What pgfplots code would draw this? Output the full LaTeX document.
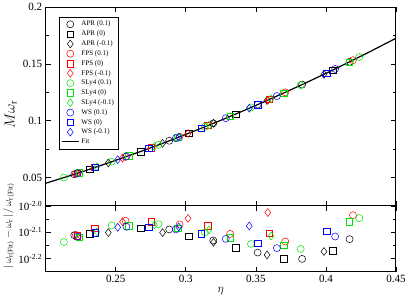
\documentclass[border=0pt]{standalone}
\usepackage{pgfplots}
\pgfplotsset{compat=1.18}
\usepackage{pgfplotstable}
\usepackage{fontspec}
\setmainfont{Liberation Serif}
\definecolor{gRed}{RGB}{255,0,0}
\definecolor{gGreen}{RGB}{0,230,0}
\definecolor{gBlue}{RGB}{0,0,255}

% columns: eta, M omega_r (upper), log10 relative error (lower)
\pgfplotstableread{
x y e
0.2204 0.0529 -2.111
0.2882 0.0824 -2.089
0.3196 0.0977 -2.131
0.3513 0.1142 -2.177
0.3830 0.1318 -2.201
0.4169 0.1519 -2.126
}\aprc
\pgfplotstableread{
x y e
0.2315 0.0574 -2.106
0.2677 0.0729 -2.085
0.3021 0.0890 -2.116
0.3357 0.1059 -2.158
0.3698 0.1244 -2.201
0.4048 0.1446 -2.170
}\aprs
\pgfplotstableread{
x y e
0.2447 0.0629 -2.101
0.2834 0.0801 -2.101
0.3198 0.0978 -2.138
0.3580 0.1179 -2.186
0.3986 0.1409 -2.173
}\aprd
\pgfplotstableread{
x y e
0.2216 0.0534 -2.110
0.2570 0.0682 -2.056
0.2956 0.0859 -2.070
0.3316 0.1038 -2.106
0.3710 0.1250 -2.135
0.4193 0.1533 -2.035
}\fpsc
\pgfplotstableread{
x y e
0.2225 0.0537 -2.113
0.2351 0.0589 -2.085
0.2752 0.0763 -2.060
0.3158 0.0958 -2.076
0.3597 0.1188 -2.104
}\fpss
\pgfplotstableread{
x y e
0.2230 0.0539 -2.118
0.2548 0.0672 -2.060
0.3016 0.0888 -2.047
0.3585 0.1181 -2.025
}\fpsd
\pgfplotstableread{
x y e
0.2130 0.0500 -2.137
0.2471 0.0639 -2.074
0.2805 0.0788 -2.069
0.3136 0.0947 -2.100
0.3465 0.1117 -2.144
0.3820 0.1313 -2.163
0.4238 0.1561 -2.046
}\slyc
\pgfplotstableread{
x y e
0.2240 0.0543 -2.118
0.2593 0.0692 -2.076
0.2944 0.0853 -2.085
0.3316 0.1038 -2.120
0.3698 0.1244 -2.150
0.4166 0.1517 -2.060
}\slys
\pgfplotstableread{
x y e
0.2365 0.0595 -2.098
0.2776 0.0774 -2.072
0.3165 0.0961 -2.091
0.3609 0.1194 -2.114
}\slyd
\pgfplotstableread{
x y e
0.2228 0.0539 -2.116
0.2576 0.0685 -2.079
0.2929 0.0846 -2.089
0.3285 0.1022 -2.125
0.3650 0.1217 -2.160
0.4066 0.1456 -2.116
}\wsc
\pgfplotstableread{
x y e
0.2355 0.0590 -2.101
0.2737 0.0757 -2.081
0.3112 0.0935 -2.106
0.3513 0.1142 -2.142
0.4005 0.1420 -2.097
}\wss
\pgfplotstableread{
x y e
0.2514 0.0658 -2.081
0.2950 0.0856 -2.080
0.3453 0.1110 -2.076
}\wsd
\pgfplotstableread{
x y
0.200 0.0450
0.225 0.0547
0.250 0.0652
0.275 0.0762
0.300 0.0880
0.325 0.1004
0.350 0.1135
0.375 0.1273
0.400 0.1417
0.425 0.1568
0.450 0.1726
}\fit

\pgfplotsset{
  common/.style={
    scale only axis, width=347bp,
    xmin=0.2, xmax=0.45,
    xtick={0.25,0.3,0.35,0.4,0.45},
    scaled x ticks=false, scaled y ticks=false,
    axis line style={line width=1pt},
    major tick length=5bp, minor tick length=3bp,
    every tick/.style={black, line width=0.6pt},
    tick label style={font=\fontsize{11}{13}\selectfont},
    /pgf/number format/assume math mode=true,
  },
  mc/.style={only marks, mark=o, mark size=3.5bp, line width=0.5pt, draw=#1},
  ms/.style={only marks, mark=square, mark size=3.2bp, line width=0.5pt, draw=#1},
  md/.style={only marks, mark=diamond, mark size=3.9bp, line width=0.5pt, draw=#1},
}

\begin{document}
\begin{tikzpicture}
\begin{axis}[common, name=lower,
  height=65.2bp,
  ymin=-2.25, ymax=-2.0,
  ytick={-2.2,-2.1,-2.0},
  yticklabels={10\textsuperscript{-2.2},10\textsuperscript{-2.1},10\textsuperscript{-2.0}},
  minor ytick={-2.25,-2.15,-2.05},
  xlabel={$\eta$},
  xlabel style={font=\fontsize{13}{15}\selectfont, yshift=2bp},
  ylabel={$|\,\omega_{\mathrm{r(Fit)}} - \omega_{\mathrm{r}}\,|\,/\,\omega_{\mathrm{r(Fit)}}$},
  ylabel style={font=\fontsize{10}{12}\selectfont, at={(axis description cs:-0.105,0.7)}, anchor=center},
]
\addplot[mc=black] table[x=x,y=e]{\aprc};
\addplot[ms=black] table[x=x,y=e]{\aprs};
\addplot[md=black] table[x=x,y=e]{\aprd};
\addplot[mc=gRed] table[x=x,y=e]{\fpsc};
\addplot[ms=gRed] table[x=x,y=e]{\fpss};
\addplot[md=gRed] table[x=x,y=e]{\fpsd};
\addplot[mc=gGreen] table[x=x,y=e]{\slyc};
\addplot[ms=gGreen] table[x=x,y=e]{\slys};
\addplot[md=gGreen] table[x=x,y=e]{\slyd};
\addplot[mc=gBlue] table[x=x,y=e]{\wsc};
\addplot[ms=gBlue] table[x=x,y=e]{\wss};
\addplot[md=gBlue] table[x=x,y=e]{\wsd};
\end{axis}
\begin{axis}[common,
  at={(lower.north west)}, anchor=south west,
  height=197bp,
  ymin=0.025, ymax=0.2,
  ytick={0.05,0.1,0.15,0.2},
  yticklabels={0.05,0.1,0.15,0.2},
  minor ytick={0.025,0.075,0.125,0.175},
  xticklabels={},
  ylabel={$M\omega_{\mathrm{r}}$},
  ylabel style={font=\fontsize{14}{16}\selectfont, at={(axis description cs:-0.1,0.46)}, anchor=center},
  legend style={at={(0.037,0.952)}, anchor=north west, draw=black, line width=0.8pt,
    font=\fontsize{7}{7.5}\selectfont, row sep=-0.6bp, inner sep=2bp,
    cells={anchor=west}},
  legend cell align=left,
]
\addplot[mc=black] table[x=x,y=y]{\aprc}; \addlegendentry{APR (0.1)}
\addplot[ms=black] table[x=x,y=y]{\aprs}; \addlegendentry{APR (0)}
\addplot[md=black] table[x=x,y=y]{\aprd}; \addlegendentry{APR (-0.1)}
\addplot[mc=gRed] table[x=x,y=y]{\fpsc}; \addlegendentry{FPS (0.1)}
\addplot[ms=gRed] table[x=x,y=y]{\fpss}; \addlegendentry{FPS (0)}
\addplot[md=gRed] table[x=x,y=y]{\fpsd}; \addlegendentry{FPS (-0.1)}
\addplot[mc=gGreen] table[x=x,y=y]{\slyc}; \addlegendentry{SLy4 (0.1)}
\addplot[ms=gGreen] table[x=x,y=y]{\slys}; \addlegendentry{SLy4 (0)}
\addplot[md=gGreen] table[x=x,y=y]{\slyd}; \addlegendentry{SLy4 (-0.1)}
\addplot[mc=gBlue] table[x=x,y=y]{\wsc}; \addlegendentry{WS (0.1)}
\addplot[ms=gBlue] table[x=x,y=y]{\wss}; \addlegendentry{WS (0)}
\addplot[md=gBlue] table[x=x,y=y]{\wsd}; \addlegendentry{WS (-0.1)}
\addplot[black, line width=1.2pt, smooth, no marks] table[x=x,y=y]{\fit}; \addlegendentry{Fit}
\end{axis}
\end{tikzpicture}
\end{document}
